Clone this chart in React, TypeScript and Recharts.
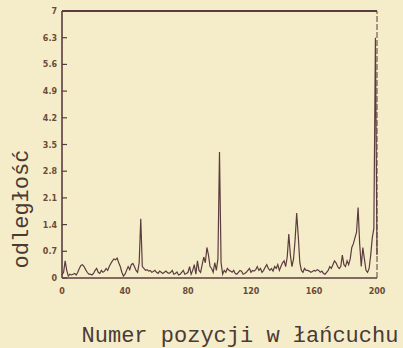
import { Line, LineChart, ReferenceLine, XAxis, YAxis } from "recharts";

const positions = Array.from({ length: 201 }, (_, i) => i);

// odległość, position 0..200, ten per row
const distances = [
  0.08, 0.15, 0.45, 0.2, 0.05, 0.1, 0.08, 0.1, 0.12, 0.08,
  0.15, 0.25, 0.33, 0.35, 0.3, 0.22, 0.15, 0.1, 0.1, 0.08,
  0.12, 0.2, 0.25, 0.15, 0.12, 0.2, 0.15, 0.18, 0.25, 0.2,
  0.3, 0.38, 0.45, 0.5, 0.48, 0.52, 0.4, 0.3, 0.15, 0.05,
  0.1, 0.2, 0.3, 0.22, 0.35, 0.38, 0.3, 0.2, 0.15, 0.4,
  1.55, 0.3, 0.25, 0.2, 0.22, 0.18, 0.2, 0.15, 0.17, 0.2,
  0.15, 0.12, 0.18, 0.15, 0.12, 0.15, 0.18, 0.14, 0.12, 0.15,
  0.2, 0.1, 0.12, 0.16, 0.08, 0.1, 0.15, 0.2, 0.1, 0.12,
  0.15, 0.3, 0.1, 0.2, 0.35, 0.1, 0.45, 0.2, 0.15, 0.35,
  0.55, 0.4, 0.8, 0.6, 0.3, 0.25, 0.15, 0.4, 0.2, 0.5,
  3.3, 0.4, 0.1, 0.2, 0.15, 0.25, 0.2, 0.18, 0.15, 0.2,
  0.12, 0.1, 0.15, 0.2, 0.18, 0.1, 0.12, 0.15, 0.2, 0.25,
  0.15, 0.2, 0.18, 0.22, 0.3, 0.2, 0.25, 0.15, 0.2, 0.28,
  0.35, 0.25, 0.2, 0.25, 0.18, 0.3, 0.25, 0.35, 0.2, 0.3,
  0.4, 0.45, 0.3, 0.55, 1.15, 0.6, 0.3, 0.5, 1.0, 1.7,
  1.1, 0.4, 0.2, 0.15, 0.25, 0.2, 0.2, 0.18, 0.15, 0.17,
  0.2, 0.18, 0.22, 0.2, 0.15, 0.18, 0.12, 0.1, 0.15, 0.2,
  0.3, 0.25, 0.35, 0.45, 0.4, 0.3, 0.25, 0.3, 0.6, 0.35,
  0.3, 0.45, 0.35, 0.5, 0.8, 0.9, 1.05, 1.2, 1.85, 0.9,
  0.3, 0.8, 0.5, 0.2, 0.15, 0.25, 0.6, 1.05, 1.3, 6.3,
  0.6,
];

const xTicks = [0, 40, 80, 120, 160, 200];
const yTicks = [0, 0.7, 1.4, 2.1, 2.8, 3.5, 4.2, 4.9, 5.6, 6.3, 7];

const data = positions.map((p, i) => ({ pos: p, d: distances[i] }));

const INK = "#5b3c3e";
const LABEL_INK = "#6b4b38";
const PAPER = "#f5edc9";
const tickFont = { fontFamily: "DejaVu Sans", fontSize: 8, fontWeight: 700, fill: LABEL_INK };
const typewriter = { fontFamily: "Liberation Mono", fontSize: 22, fill: "#4a3a36" };

function fmt(v: number) {
  return v === 0 || v === 7 ? String(v) : v.toFixed(1);
}

// y ticks: label outside, short mark pointing into the plot
function YTick(props: any) {
  const { x, y, payload } = props;
  const axisX = x + 5;
  return (
    <g>
      <line x1={axisX} x2={axisX + 5} y1={y} y2={y} stroke={INK} strokeWidth={1.2} />
      <text x={x} y={y} dy={3} textAnchor="end" {...tickFont}>
        {fmt(payload.value)}
      </text>
    </g>
  );
}

export default function App() {
  return (
    <div style={{ position: "absolute", left: 0, top: 0, width: 403, height: 348, background: PAPER }}>
      <LineChart width={403} height={348} data={data} margin={{ top: 11, right: 26, bottom: 0, left: 0 }}>
        <XAxis
          dataKey="pos"
          type="number"
          domain={[0, 200]}
          ticks={xTicks}
          height={70}
          tickLine={false}
          tickMargin={4}
          tick={tickFont}
          axisLine={{ stroke: INK, strokeWidth: 1.6 }}
          label={{
            content: () => (
              <text x={240} y={342} textAnchor="middle" {...typewriter}>
                Numer pozycji w łańcuchu
              </text>
            ),
          }}
        />
        <YAxis
          type="number"
          domain={[0, 7]}
          ticks={yTicks}
          width={62}
          tickSize={0}
          tickMargin={5}
          tickLine={false}
          tick={<YTick />}
          axisLine={{ stroke: INK, strokeWidth: 1.6 }}
          label={{
            content: () => (
              <text
                x={0}
                y={0}
                transform="translate(28 209) rotate(-90)"
                textAnchor="middle"
                {...typewriter}
              >
                odległość
              </text>
            ),
          }}
        />
        <ReferenceLine y={7} stroke={INK} strokeWidth={2} />
        <ReferenceLine x={200} stroke={INK} strokeWidth={1} strokeDasharray="6 2" />
        <Line
          type="linear"
          dataKey="d"
          stroke={INK}
          strokeWidth={1.2}
          dot={false}
          isAnimationActive={false}
        />
      </LineChart>
    </div>
  );
}
